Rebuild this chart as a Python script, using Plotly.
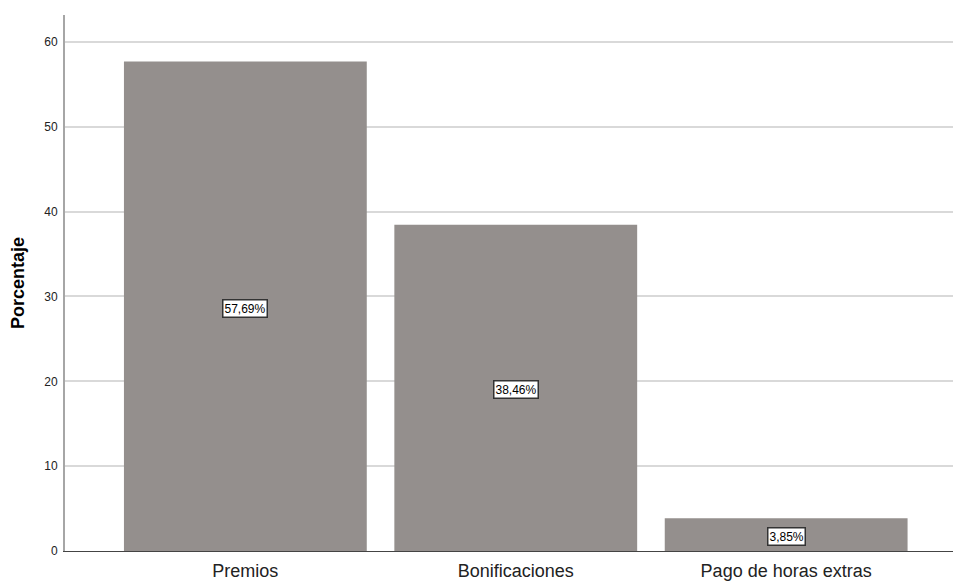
import plotly.graph_objects as go

categories = ["Premios", "Bonificaciones", "Pago de horas extras"]
values = [57.69, 38.46, 3.85]
labels = ["57,69%", "38,46%", "3,85%"]

fig = go.Figure()
fig.add_trace(go.Bar(
    x=[0, 1, 2], y=values,
    marker=dict(color="#948f8d", line=dict(width=0)),
    width=0.898,
    hoverinfo="skip",
))
for i, (v, t) in enumerate(zip(values, labels)):
    fig.add_annotation(
        x=i, y=v / 2, text=t, showarrow=False, yshift=-2,
        font=dict(family="Liberation Sans, Arial", size=12, color="#000000"),
        bgcolor="#ffffff", bordercolor="#333333", borderwidth=1.5, borderpad=1,
    )

fig.update_layout(
    width=953, height=581,
    margin=dict(l=65, r=0, t=15, b=30, autoexpand=False),
    plot_bgcolor="#ffffff", paper_bgcolor="#ffffff",
    showlegend=False,
    font=dict(family="Liberation Sans, Arial", color="#000000"),
    xaxis=dict(
        tickmode="array", tickvals=[0, 1, 2], ticktext=categories,
        range=[-0.667, 2.617],
        tickfont=dict(size=18, color="#222222"),
        showgrid=False, zeroline=False,
        showline=True, linecolor="#444444", linewidth=1,
        ticks="", ticklen=0, automargin=False, ticklabelstandoff=3,
    ),
    yaxis=dict(
        range=[0, 63.18], tickvals=[0, 10, 20, 30, 40, 50, 60],
        tickfont=dict(size=12, color="#222222"),
        showgrid=True, gridcolor="#d9d9d9", gridwidth=2,
        zeroline=False,
        showline=True, linecolor="#a6a6a6", linewidth=2,
        ticks="", ticklabelstandoff=3, automargin=False,
        title=dict(text="<b>Porcentaje</b>", font=dict(size=18), standoff=15),
    ),
)
fig.write_html(
    "out.html",
    config={"displayModeBar": False},
    post_script="document.body.style.margin='0';document.body.style.overflow='hidden';",
)
